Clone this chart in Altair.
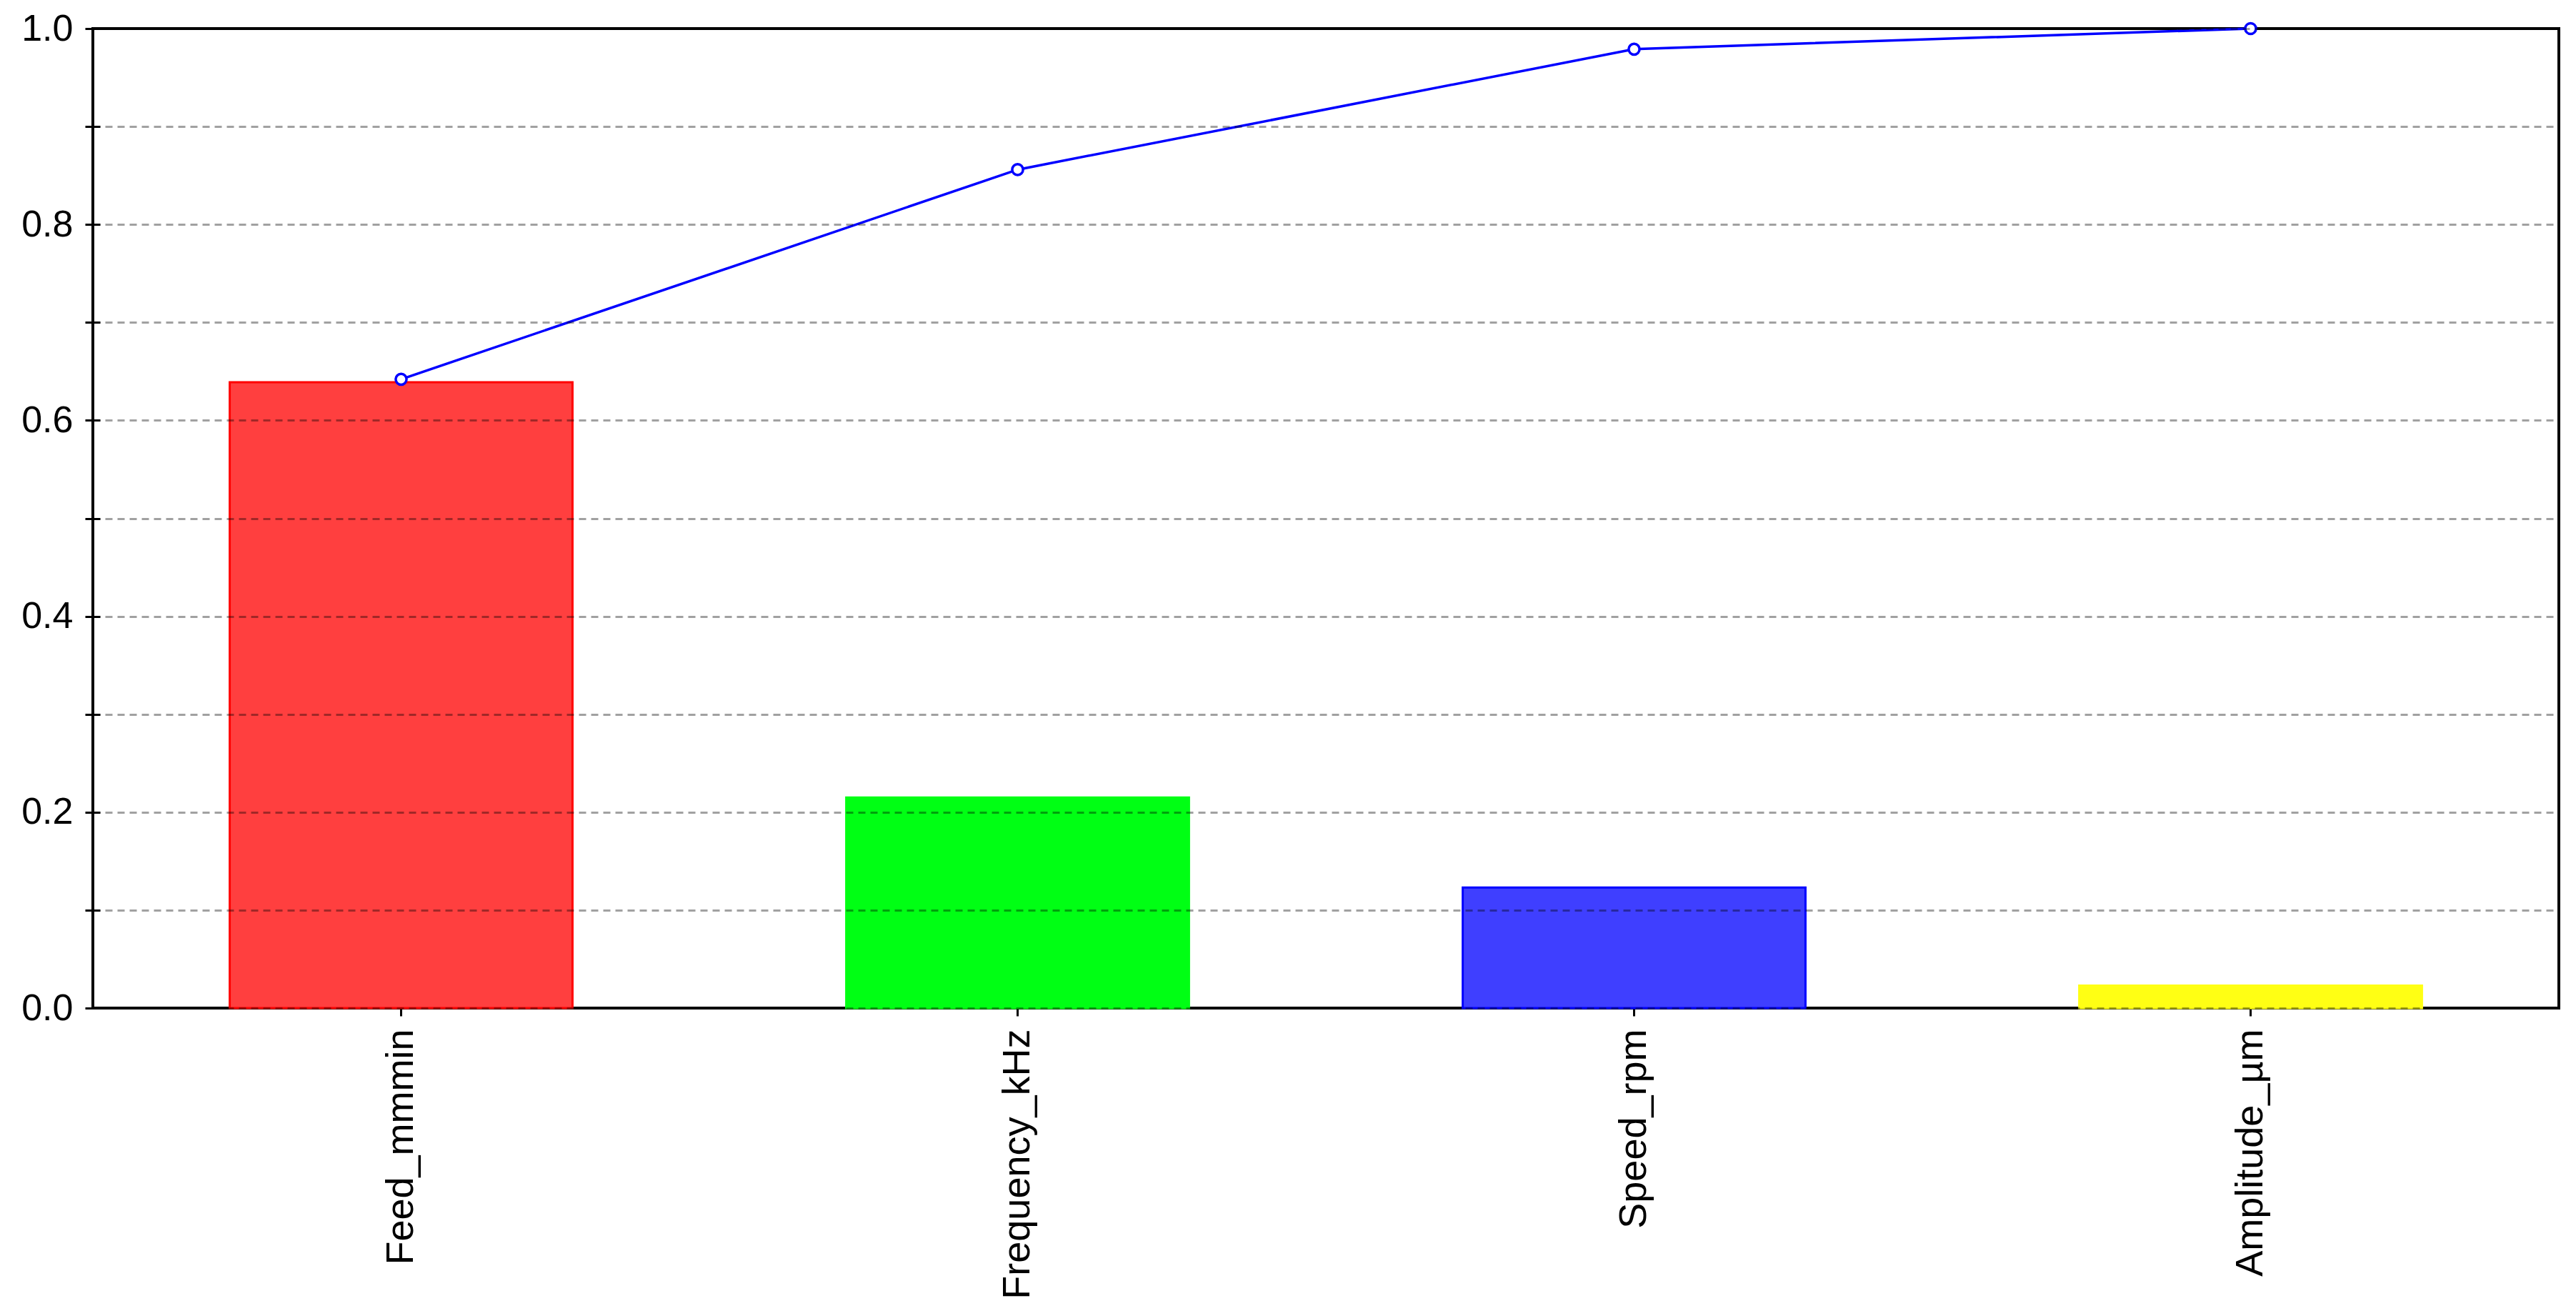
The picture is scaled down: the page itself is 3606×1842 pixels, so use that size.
import altair as alt
import pandas as pd

categories = ["Feed_mmmin", "Frequency_kHz", "Speed_rpm", "Amplitude_µm"]
importance = [0.639, 0.215, 0.123, 0.023]
cumulative = [0.642, 0.856, 0.979, 1.0]
fill_colors = ["#FF3F3F", "#00FF14", "#3F3FFF", "#FFFF14"]
stroke_colors = ["#FF0000", "#00FF14", "#0000FF", "#FFFF14"]
y_ticks = [0.0, 0.1, 0.2, 0.3, 0.4, 0.5, 0.6, 0.7, 0.8, 0.9, 1.0]

df = pd.DataFrame({"feature": categories, "importance": importance, "cumulative": cumulative})

x_enc = alt.X(
    "feature:N", sort=categories, title=None,
    scale=alt.Scale(paddingInner=0.444, paddingOuter=0.222),
    axis=alt.Axis(labelAngle=270, labelAlign="right", labelBaseline="middle",
                  labelFont="Liberation Sans", labelFontSize=54, labelColor="black",
                  labelPadding=18, labelLimit=0, tickSize=22, tickColor="black", tickWidth=3,
                  offset=-11, domain=False, grid=False, labelOverlap=False),
)

y_scale = alt.Scale(domain=[0, 1], nice=False)
y_axis = alt.Axis(values=y_ticks, title=None,
                  labelExpr="round(datum.value*10) % 2 == 0 ? format(datum.value, '.1f') : ''",
                  labelFont="Liberation Sans", labelFontSize=52, labelColor="black",
                  labelPadding=17, tickSize=21, tickColor="black", tickWidth=3,
                  offset=-10, domain=False, grid=True, gridColor="black",
                  gridOpacity=0.37, gridWidth=3, gridDash=[10, 7], zindex=1)

base = alt.Chart(df)

bars = base.mark_bar(strokeWidth=3).encode(
    x=x_enc,
    y=alt.Y("importance:Q", scale=y_scale, axis=y_axis),
    fill=alt.Fill("feature:N", scale=alt.Scale(domain=categories, range=fill_colors), legend=None),
    stroke=alt.Stroke("feature:N", scale=alt.Scale(domain=categories, range=stroke_colors), legend=None),
)

line = base.mark_line(color="#0000FF", strokeWidth=3.5).encode(
    x=x_enc,
    y=alt.Y("cumulative:Q", scale=y_scale, axis=y_axis),
)

points = base.mark_circle(fill="white", stroke="#0000FF", strokeWidth=3.5, size=230, opacity=1).encode(
    x=x_enc,
    y=alt.Y("cumulative:Q", scale=y_scale, axis=y_axis),
)

chart = (
    alt.layer(bars, line, points)
    .properties(width=3452, height=1371,
                autosize=alt.AutoSizeParams(type="none"),
                padding={"left": 122, "top": 32, "right": 16, "bottom": 423},
                background="white")
    .configure_view(stroke="black", strokeWidth=4)
)

chart.save("out.html", embed_options={"renderer": "svg", "actions": False})
